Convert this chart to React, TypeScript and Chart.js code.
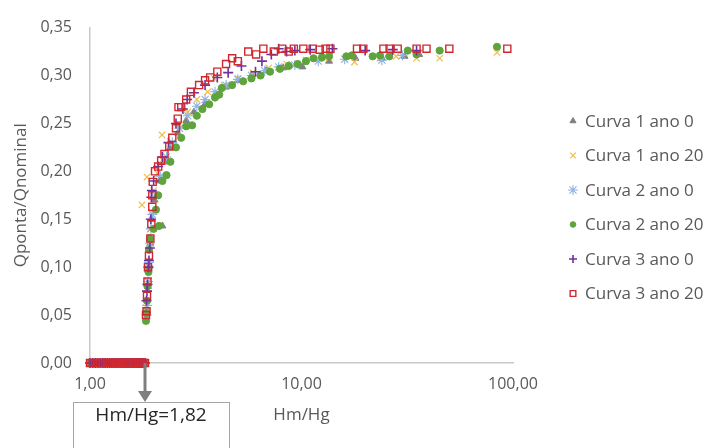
import React, { useEffect, useRef } from 'react';
import { Chart, registerables } from 'chart.js';
import { drawPoint } from 'chart.js/helpers';

Chart.register(...registerables);

const seriesNames = ['Curva 1 ano 0', 'Curva 1 ano 20', 'Curva 2 ano 0', 'Curva 2 ano 20', 'Curva 3 ano 0', 'Curva 3 ano 20'];

// points lying on Qponta/Qnominal = 0 (before Hm/Hg = 1,82)
const zeroX = [1.0, 1.03, 1.06, 1.09, 1.12, 1.15, 1.18, 1.21, 1.24, 1.27, 1.3, 1.33, 1.36, 1.39, 1.42, 1.45, 1.48, 1.51, 1.54, 1.57, 1.6, 1.63, 1.66, 1.69, 1.72, 1.75, 1.78, 1.82];

const c1a0X = [1.86, 1.88, 1.9, 1.93, 1.96, 2.2, 2.02, 2.12, 2.25, 2.4, 2.6, 2.85, 3.1, 3.5, 3.9, 4.4, 5.0, 5.8, 6.8, 8.2, 10.1, 13.5, 18, 24, 30.7, 36];
const c1a0Y = [0.055, 0.08, 0.1, 0.125, 0.15, 0.143, 0.17, 0.19, 0.21, 0.225, 0.24, 0.253, 0.262, 0.27, 0.28, 0.288, 0.295, 0.3, 0.305, 0.308, 0.309, 0.315, 0.318, 0.318, 0.32, 0.322];

const c1a20X = [1.84, 1.85, 1.87, 1.89, 1.91, 1.93, 1.76, 1.95, 1.86, 2.0, 2.08, 2.19, 2.2, 2.4, 2.65, 2.9, 3.2, 3.87, 3.6, 4.3, 5.0, 5.9, 7.0, 8.5, 10.5, 13.5, 17.8, 23.5, 28, 35, 45, 84];
const c1a20Y = [0.044, 0.058, 0.078, 0.098, 0.12, 0.14, 0.165, 0.158, 0.194, 0.18, 0.198, 0.238, 0.212, 0.228, 0.248, 0.262, 0.275, 0.297, 0.283, 0.29, 0.297, 0.303, 0.308, 0.312, 0.316, 0.318, 0.314, 0.318, 0.32, 0.318, 0.318, 0.324];

const c2a0X = [1.85, 1.86, 1.88, 1.9, 1.92, 1.94, 1.97, 2.05, 2.15, 2.3, 2.45, 2.65, 2.9, 3.2, 3.5, 3.9, 4.4, 5.0, 5.8, 6.7, 7.8, 9.3, 12, 16, 24, 30];
const c2a0Y = [0.05, 0.06, 0.085, 0.105, 0.125, 0.14, 0.155, 0.175, 0.195, 0.215, 0.23, 0.245, 0.258, 0.268, 0.275, 0.283, 0.29, 0.296, 0.3, 0.305, 0.309, 0.311, 0.315, 0.317, 0.316, 0.321];

const c2a20X = [1.84, 1.85, 1.86, 1.87, 1.89, 1.9, 1.92, 2.0, 2.12, 2.05, 2.1, 2.2, 2.3, 2.4, 2.55, 2.7, 2.85, 3.04, 3.2, 3.4, 3.66, 3.9, 4.08, 4.2, 4.7, 5.3, 5.8, 6.4, 7.1, 7.9, 8.7, 9.6, 10.5, 11.4, 12.5, 13.5, 16.3, 17.3, 21.7, 23.5, 26, 31.8, 35, 45, 84];
const c2a20Y = [0.044, 0.052, 0.065, 0.08, 0.095, 0.118, 0.13, 0.14, 0.143, 0.16, 0.175, 0.19, 0.196, 0.21, 0.225, 0.235, 0.247, 0.248, 0.258, 0.265, 0.27, 0.277, 0.28, 0.287, 0.29, 0.294, 0.297, 0.3, 0.304, 0.307, 0.31, 0.312, 0.315, 0.318, 0.319, 0.32, 0.32, 0.321, 0.32, 0.321, 0.32, 0.326, 0.322, 0.326, 0.33];

const c3a0X = [1.85, 1.86, 1.87, 1.89, 1.9, 1.92, 1.94, 1.95, 1.96, 2.0, 2.1, 2.2, 2.35, 2.55, 2.75, 2.88, 3.1, 3.5, 4.0, 4.5, 5.2, 6.06, 6.5, 7.2, 7.8, 8.5, 9.3, 11, 14, 20, 27, 35];
const c3a0Y = [0.065, 0.075, 0.082, 0.1, 0.107, 0.12, 0.15, 0.173, 0.18, 0.19, 0.205, 0.215, 0.23, 0.25, 0.265, 0.275, 0.282, 0.29, 0.298, 0.303, 0.31, 0.304, 0.315, 0.322, 0.328, 0.325, 0.326, 0.327, 0.328, 0.326, 0.327, 0.326];

const c3a20X = [1.84, 1.85, 1.86, 1.87, 1.88, 1.9, 1.93, 1.95, 1.97, 1.97, 1.98, 2.03, 2.1, 2.17, 2.25, 2.37, 2.45, 2.55, 2.6, 2.7, 2.62, 2.85, 3.0, 3.28, 3.5, 3.7, 4.0, 4.4, 4.7, 5.0, 5.6, 6.1, 6.6, 7.4, 8.1, 8.7, 9.2, 10.2, 11.3, 12.2, 13.0, 13.7, 18.3, 19.6, 24.4, 26.1, 28.5, 35, 39, 50, 94];
const c3a20Y = [0.05, 0.054, 0.07, 0.085, 0.1, 0.112, 0.13, 0.145, 0.163, 0.175, 0.189, 0.2, 0.205, 0.211, 0.218, 0.226, 0.235, 0.245, 0.255, 0.267, 0.267, 0.275, 0.283, 0.29, 0.295, 0.298, 0.304, 0.312, 0.318, 0.315, 0.325, 0.322, 0.328, 0.325, 0.328, 0.325, 0.328, 0.328, 0.328, 0.327, 0.328, 0.328, 0.328, 0.328, 0.328, 0.328, 0.328, 0.328, 0.328, 0.328, 0.328];

const xTicks = [1, 10, 100];
const annotationX = 1.82;
const annotationText = 'Hm/Hg=1,82';

const fmt = (v: number) => Number(v).toFixed(2).replace('.', ',');

const pts = (xs: number[], ys: number[]) => {
  const z = zeroX.map((x) => ({ x, y: 0 }));
  return z.concat(xs.map((x, i) => ({ x, y: ys[i] })));
};

const FONT = '"Open Sans", sans-serif';
const TXT = '#595959';

const overlayPlugin = {
  id: 'overlay',
  afterDraw(chart: any) {
    const ctx = chart.ctx as CanvasRenderingContext2D;
    ctx.save();
    // legend
    chart.data.datasets.forEach((ds: any, i: number) => {
      const y = 121 + i * 34.5;
      ctx.fillStyle = ds.backgroundColor;
      ctx.strokeStyle = ds.borderColor;
      ctx.lineWidth = ds.borderWidth;
      drawPoint(ctx, { pointStyle: ds.pointStyle, radius: ds.legendRadius, rotation: 0, borderWidth: ds.borderWidth } as any, 573, y);
      ctx.fillStyle = TXT;
      ctx.font = '17px ' + FONT;
      ctx.textAlign = 'left';
      ctx.textBaseline = 'middle';
      ctx.fillText(ds.label, 585, y + 1);
    });
    // annotation arrow + box
    const px = chart.scales.x.getPixelForValue(annotationX);
    const py = chart.scales.y.getPixelForValue(0);
    ctx.strokeStyle = '#7f7f7f';
    ctx.fillStyle = '#7f7f7f';
    ctx.lineWidth = 3;
    ctx.beginPath();
    ctx.moveTo(px, py);
    ctx.lineTo(px, 392);
    ctx.stroke();
    ctx.beginPath();
    ctx.moveTo(px - 7, 391);
    ctx.lineTo(px + 7, 391);
    ctx.lineTo(px, 402);
    ctx.closePath();
    ctx.fill();
    ctx.fillStyle = '#ffffff';
    ctx.fillRect(73, 402, 156, 50);
    ctx.strokeStyle = '#a6a6a6';
    ctx.lineWidth = 1;
    ctx.strokeRect(73.5, 402.5, 156, 50);
    ctx.fillStyle = '#262626';
    ctx.font = '19px ' + FONT;
    ctx.textAlign = 'center';
    ctx.textBaseline = 'middle';
    ctx.fillText(annotationText, 151, 416);
    ctx.restore();
  },
};

export default function App() {
  const ref = useRef<HTMLCanvasElement>(null);
  useEffect(() => {
    if (!ref.current) return;
    Chart.defaults.font.family = FONT;
    const mk = (i: number, xs: number[], ys: number[], style: any) => ({
      label: seriesNames[i],
      data: pts(xs, ys),
      clip: false,
      ...style,
    });
    const chart = new Chart(ref.current, {
      type: 'scatter',
      data: {
        datasets: [
          mk(0, c1a0X, c1a0Y, { pointStyle: 'triangle', pointRadius: 4, legendRadius: 3.5, backgroundColor: '#808080', borderColor: '#808080', borderWidth: 1, order: 5 }),
          mk(1, c1a20X, c1a20Y, { pointStyle: 'crossRot', pointRadius: 4.5, legendRadius: 4, backgroundColor: '#f2bd4a', borderColor: '#f2bd4a', borderWidth: 1.2, order: 4 }),
          mk(2, c2a0X, c2a0Y, { pointStyle: 'star', pointRadius: 5, legendRadius: 5, backgroundColor: '#8db4e2', borderColor: '#8db4e2', borderWidth: 1.1, order: 3 }),
          mk(3, c2a20X, c2a20Y, { pointStyle: 'circle', pointRadius: 3.6, legendRadius: 2.8, backgroundColor: '#5fa33d', borderColor: '#5fa33d', borderWidth: 1, order: 2 }),
          mk(4, c3a0X, c3a0Y, { pointStyle: 'cross', pointRadius: 5, legendRadius: 4, backgroundColor: '#7030a0', borderColor: '#7030a0', borderWidth: 1.6, order: 1 }),
          mk(5, c3a20X, c3a20Y, { pointStyle: 'rect', pointRadius: 5, legendRadius: 4, backgroundColor: 'rgba(255,255,255,0)', borderColor: '#d0282f', borderWidth: 1.4, order: 0 }),
        ],
      },
      options: {
        animation: false,
        responsive: true,
        maintainAspectRatio: false,
        layout: { padding: { left: 0, top: 18, right: 200, bottom: 0 } },
        plugins: { legend: { display: false }, tooltip: { enabled: false } },
        scales: {
          x: {
            type: 'logarithmic',
            min: 1,
            max: 100,
            grid: { display: false, drawTicks: false },
            border: { display: true, color: '#c8c8c8', width: 1.5 },
            afterBuildTicks: (scale: any) => {
              scale.ticks = xTicks.map((v) => ({ value: v }));
            },
            afterFit: (scale: any) => {
              scale.height = 85;
            },
            ticks: {
              autoSkip: false,
              maxRotation: 0,
              padding: 12,
              color: TXT,
              font: { size: 16, family: FONT },
              callback: (v: any) => fmt(Number(v)),
            },
            title: { display: true, text: 'Hm/Hg', color: TXT, font: { size: 17, family: FONT }, padding: { top: 0, bottom: 23 } },
          },
          y: {
            min: 0,
            max: 0.35,
            grid: { display: false, drawTicks: false },
            border: { display: true, color: '#c8c8c8', width: 1.5 },
            afterFit: (scale: any) => {
              scale.width = 90;
            },
            ticks: {
              stepSize: 0.05,
              padding: 18,
              color: TXT,
              font: { size: 16, family: FONT },
              callback: (v: any) => fmt(Number(v)),
            },
            title: { display: true, text: 'Qponta/Qnominal', color: TXT, font: { size: 17, family: FONT }, padding: { top: 11, bottom: 0 } },
          },
        },
      } as any,
      plugins: [overlayPlugin],
    });
    return () => chart.destroy();
  }, []);
  return (
    <div style={{ position: 'fixed', left: 0, top: 0, width: 713, height: 448, background: '#ffffff' }}>
      <canvas ref={ref} />
    </div>
  );
}
